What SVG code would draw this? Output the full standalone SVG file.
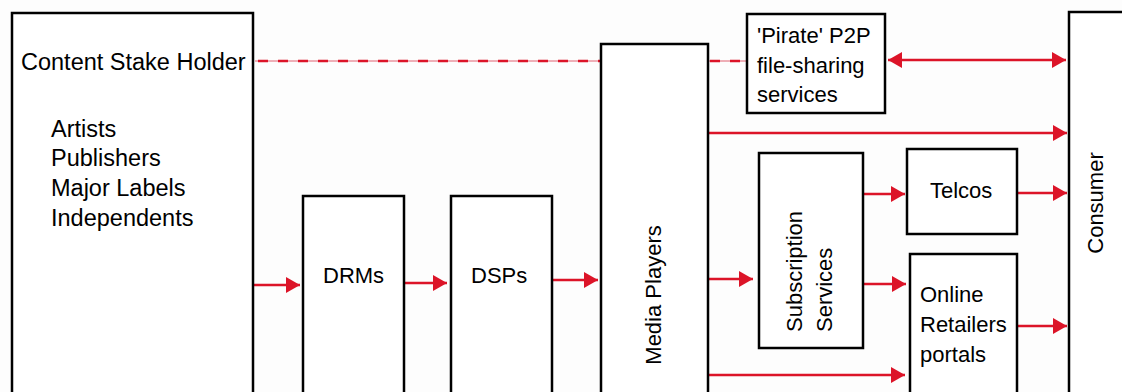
<svg xmlns="http://www.w3.org/2000/svg" width="1122" height="392" viewBox="0 0 1122 392">
<defs>
<marker id="ah" markerUnits="userSpaceOnUse" markerWidth="15" markerHeight="16" refX="14" refY="8" orient="auto-start-reverse">
<path d="M0,0 L14,8 L0,16 z" fill="#DC1428"/>
</marker>
<style>
.box{fill:#fff;stroke:#000;stroke-width:2.5}
.t{font-family:"Liberation Sans",Arial,sans-serif;font-size:22px;fill:#000}
.l{font-size:23.5px}
.c{stroke:#DC1428;stroke-width:2.5;fill:none}
</style>
</defs>
<rect width="1122" height="392" fill="#fdfdfd"/>
<g id="connectors">
<line x1="255" y1="61" x2="600" y2="61" stroke="#E06070" stroke-width="1"/>
<line x1="258" y1="61" x2="600" y2="61" class="c" stroke-dasharray="10 10"/>
<line x1="708" y1="61" x2="747" y2="61" stroke="#E06070" stroke-width="1"/>
<line x1="710" y1="61" x2="747" y2="61" class="c" stroke-dasharray="10 10"/>
<line x1="888" y1="60" x2="1066" y2="60" class="c" marker-start="url(#ah)" marker-end="url(#ah)"/>
<line x1="254" y1="285" x2="300" y2="285" class="c" marker-end="url(#ah)"/>
<line x1="403" y1="283" x2="447" y2="283" class="c" marker-end="url(#ah)"/>
<line x1="553" y1="280" x2="598" y2="280" class="c" marker-end="url(#ah)"/>
<line x1="709" y1="133" x2="1067" y2="133" class="c" marker-end="url(#ah)"/>
<line x1="709" y1="279" x2="753" y2="279" class="c" marker-end="url(#ah)"/>
<line x1="864" y1="194" x2="905" y2="194" class="c" marker-end="url(#ah)"/>
<line x1="1018" y1="193" x2="1067" y2="193" class="c" marker-end="url(#ah)"/>
<line x1="864" y1="284" x2="906" y2="284" class="c" marker-end="url(#ah)"/>
<line x1="1017" y1="326" x2="1067" y2="326" class="c" marker-end="url(#ah)"/>
<line x1="709" y1="375" x2="905" y2="375" class="c" marker-end="url(#ah)"/>
</g>
<g id="content-stake-holder">
<rect class="box" x="12" y="13" width="241" height="400"/>
<text class="t l" x="21" y="70">Content Stake Holder</text>
<text class="t l" x="51" y="137">Artists</text>
<text class="t l" x="51" y="166">Publishers</text>
<text class="t l" x="51" y="196">Major Labels</text>
<text class="t l" x="51" y="226">Independents</text>
</g>
<g id="drms">
<rect class="box" x="303" y="196" width="101" height="220"/>
<text class="t" x="323" y="283">DRMs</text>
</g>
<g id="dsps">
<rect class="box" x="451" y="196" width="101" height="220"/>
<text class="t" x="471" y="283">DSPs</text>
</g>
<g id="media-players">
<rect class="box" x="601" y="44" width="107" height="370"/>
<text class="t" transform="translate(661,295) rotate(-90)" text-anchor="middle" font-size="23">Media Players</text>
</g>
<g id="p2p">
<rect class="box" x="747" y="14" width="138" height="99"/>
<text class="t" x="757" y="43">'Pirate' P2P</text>
<text class="t" x="757" y="73" font-size="23">file-sharing</text>
<text class="t" x="757" y="102">services</text>
</g>
<g id="subscription">
<rect class="box" x="759" y="153" width="104" height="195"/>
<text class="t" transform="translate(802,332) rotate(-90)" font-size="23">Subscription</text>
<text class="t" transform="translate(832,332) rotate(-90)" font-size="23">Services</text>
</g>
<g id="telcos">
<rect class="box" x="907" y="149" width="110" height="85"/>
<text class="t" x="930" y="198">Telcos</text>
</g>
<g id="online-retailers">
<rect class="box" x="910" y="254" width="107" height="160"/>
<text class="t" x="920" y="302">Online</text>
<text class="t" x="920" y="332">Retailers</text>
<text class="t" x="920" y="362">portals</text>
</g>
<g id="consumer">
<rect class="box" x="1069" y="12" width="60" height="400"/>
<text class="t" transform="translate(1103,203) rotate(-90)" text-anchor="middle">Consumer</text>
</g>
</svg>
